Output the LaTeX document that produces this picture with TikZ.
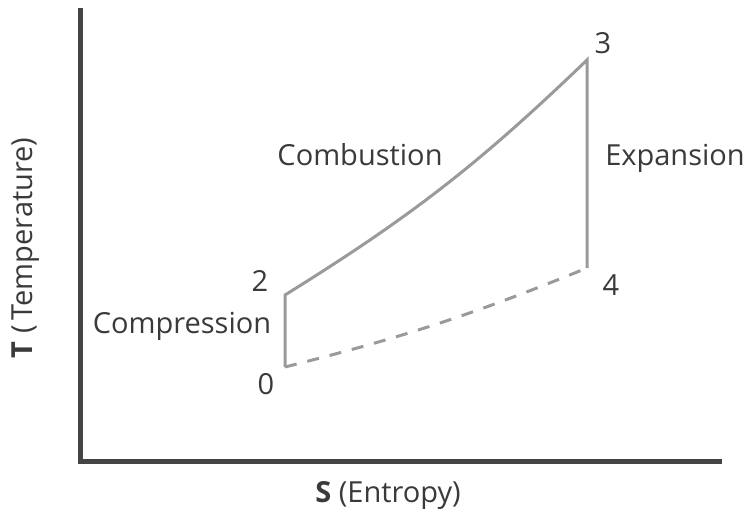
\documentclass[tikz,border=0pt]{standalone}
\usepackage{fontspec}
\setmainfont{Open Sans}
\definecolor{axisgray}{HTML}{444444}
\definecolor{cyclegray}{HTML}{9A9A9A}
\definecolor{textgray}{HTML}{3A3A3A}

\begin{document}
\begin{tikzpicture}[x=1pt, y=-1pt,
    axis/.style={draw=axisgray, line width=5pt},
    cycle/.style={draw=cyclegray, line width=3pt},
    lbl/.style={text=textgray, inner sep=0pt, font=\fontsize{29}{33}\selectfont}]
  \useasboundingbox (0,0) rectangle (748,515);

  % axes
  \coordinate (top) at (80,8);
  \coordinate (origin) at (80,461);
  \coordinate (right) at (722,461);
  \draw[axis] (top) -- (origin) -- (right);

  % states of the cycle
  \coordinate (p0) at (285,367);
  \coordinate (p2) at (285,295);
  \coordinate (p3) at (587,60);
  \coordinate (p4) at (587,268);

  \draw[cycle] (p0) -- (p2) to[bend right=6] (p3) -- (p4);
  \draw[cycle, dash pattern=on 12pt off 11pt] (p0) to[bend right=4] (p4);

  \node[lbl] (n0) at (266,384) {0};
  \node[lbl] (n2) at (260,281) {2};
  \node[lbl] (n3) at (603,43) {3};
  \node[lbl] (n4) at (611,285) {4};

  \node[lbl] (compression) at (182,326) {Compression};
  \node[lbl] (combustion) at (360,155) {Combustion};
  \node[lbl] (expansion) at (675,158) {Expansion};

  \node[lbl, rotate=90] (tlabel) at (26,248) {\textbf{T} (\,Temperature)};
  \node[lbl] (slabel) at (388,495) {\textbf{S} (Entropy)};
\end{tikzpicture}
\end{document}
